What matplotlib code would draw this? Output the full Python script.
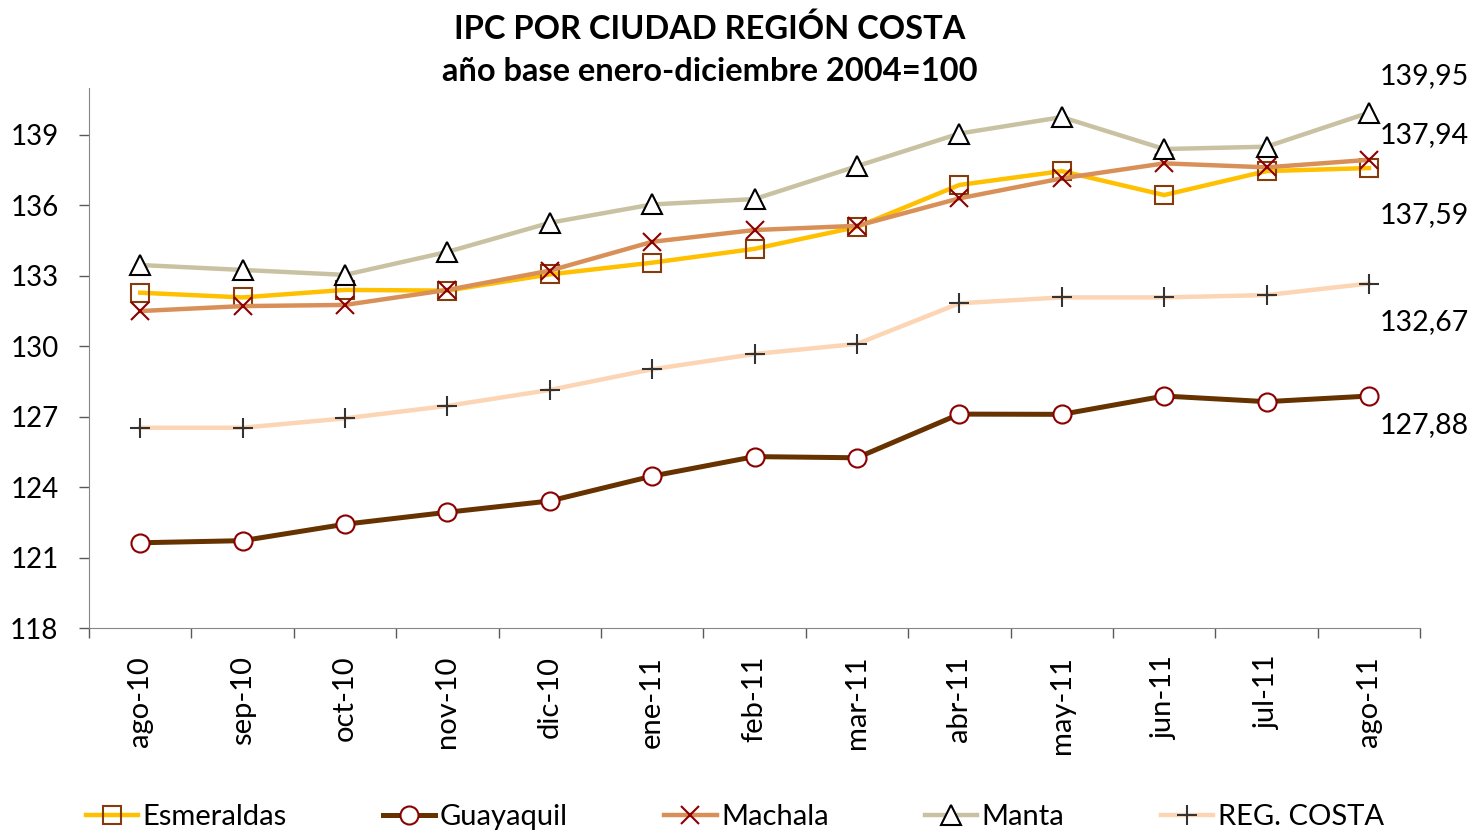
import numpy as np
import matplotlib
matplotlib.use('Agg')
import matplotlib.pyplot as plt

plt.rcParams['font.family'] = ['Lato', 'DejaVu Sans']

# Data
months = ['ago-10', 'sep-10', 'oct-10', 'nov-10', 'dic-10', 'ene-11', 'feb-11',
          'mar-11', 'abr-11', 'may-11', 'jun-11', 'jul-11', 'ago-11']
esmeraldas = [132.28, 132.08, 132.40, 132.37, 133.06, 133.56, 134.15,
              135.08, 136.87, 137.46, 136.44, 137.46, 137.59]
guayaquil = [121.63, 121.72, 122.42, 122.93, 123.41, 124.47, 125.30,
             125.25, 127.11, 127.10, 127.88, 127.64, 127.88]
machala = [131.50, 131.71, 131.76, 132.40, 133.22, 134.45, 134.95,
           135.13, 136.30, 137.15, 137.79, 137.62, 137.94]
manta = [133.46, 133.25, 133.04, 134.02, 135.26, 136.04, 136.27,
         137.67, 139.06, 139.76, 138.40, 138.50, 139.95]
reg_costa = [126.53, 126.53, 126.93, 127.46, 128.14, 129.02, 129.67,
             130.10, 131.83, 132.08, 132.08, 132.18, 132.67]

x = np.arange(len(months))

fig = plt.figure(figsize=(14.84, 8.34), dpi=100)
ax = fig.add_axes([0.06, 0.247, 0.897, 0.6475])

ax.plot(x, esmeraldas, color='#FFC000', lw=3.2, marker='s', ms=13,
        mfc='none', mec='#843C0C', mew=1.5, label='Esmeraldas', zorder=3)
ax.plot(x, guayaquil, color='#663300', lw=3.6, marker='o', ms=13,
        mfc='white', mec='#8B0000', mew=1.5, label='Guayaquil', zorder=3)
ax.plot(x, machala, color='#D99058', lw=3.2, marker='x', ms=13,
        mec='#8B0000', mew=1.5, label='Machala', zorder=4)
ax.plot(x, manta, color='#C9C2A2', lw=3.2, marker='^', ms=14,
        mfc='white', mec='black', mew=1.5, label='Manta', zorder=5)
ax.plot(x, reg_costa, color='#FCD5B5', lw=3.2, marker='+', ms=14,
        mec='#333333', mew=1.5, label='REG. COSTA', zorder=4)

# value labels at the last month
end_labels = [(manta[-1], -37), (machala[-1], -25), (esmeraldas[-1], 47),
              (reg_costa[-1], 38), (guayaquil[-1], 29)]
for val, dy in end_labels:
    ax.annotate(f'{val:.2f}'.replace('.', ','), xy=(x[-1], val),
                xytext=(40, -dy * 0.72), textcoords='offset points',
                ha='center', va='center', fontsize=20.5, annotation_clip=False)

ax.set_xlim(-0.5, len(months) - 0.5)
ax.set_ylim(118, 141)
ax.set_yticks(np.arange(118, 140, 3))
ax.tick_params(axis='y', labelsize=20, length=7, width=1, color='#595959', pad=15)

ax.set_xticks(np.arange(-0.5, len(months), 1))
ax.set_xticklabels([])
ax.set_xticks(x, minor=True)
ax.set_xticklabels(months, minor=True, rotation=90)
ax.tick_params(axis='x', which='major', length=7, width=1, color='#595959')
ax.tick_params(axis='x', which='minor', length=0, labelsize=21, pad=20)

for s in ['top', 'right']:
    ax.spines[s].set_visible(False)
for s in ['left', 'bottom']:
    ax.spines[s].set_color('#868686')

fig.text(0.478, 0.94, 'IPC POR CIUDAD REGIÓN COSTA\naño base enero-diciembre 2004=100',
         ha='center', va='center', fontsize=23.5, fontweight='bold', linespacing=1.55)

fig.legend(loc='lower center', ncol=5, frameon=False, fontsize=21,
           bbox_to_anchor=(0.495, -0.027), columnspacing=3.3, handlelength=1.8,
           handletextpad=0.15)

fig.savefig('out.png', dpi=100)
